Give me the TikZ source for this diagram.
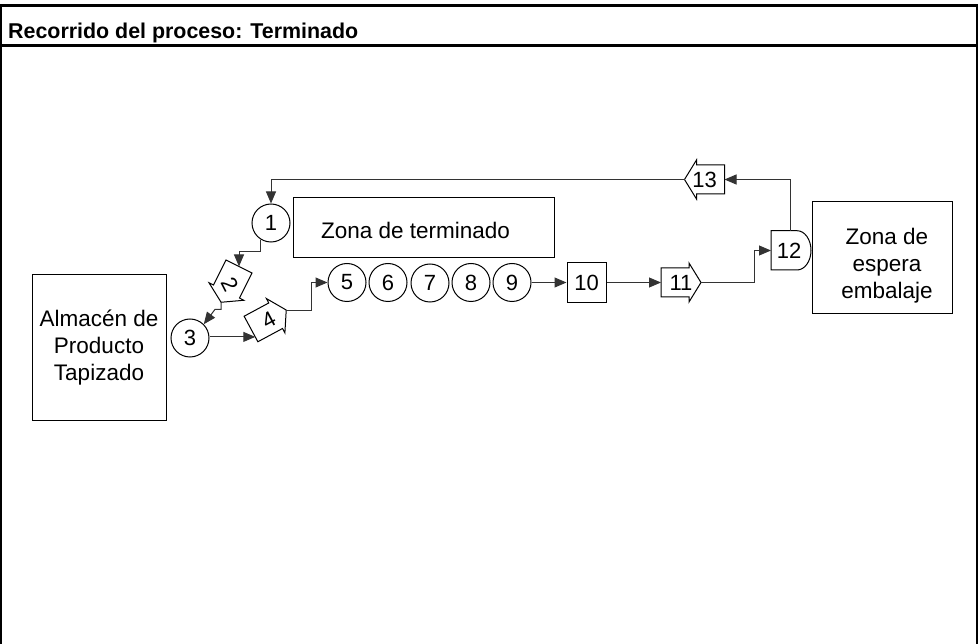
\documentclass[tikz,border=0pt]{standalone}
\usepackage{fontspec}
\setmainfont{Liberation Sans}
\usetikzlibrary{arrows.meta,calc}
\newcommand\ablock[6]{%
  \begin{scope}[shift={(#2,#3)}, rotate=#4]
    \draw[shapeline] (0,-14.5) -- (28,-14.5) -- (28,-19.5) -- (40,0) -- (28,19.5) -- (28,14.5) -- (0,14.5) -- cycle;
    \coordinate (#1-tail) at (0,0);
    \coordinate (#1-tip) at (40,0);
    \coordinate (#1-in) at (0,-9);
    \node[num, rotate=#6] (#1) at (20,0) {#5};
  \end{scope}}
\begin{document}
\begin{tikzpicture}[x=1pt,y=1pt,
  shapeline/.style={draw=black, line width=1pt},
  conn/.style={draw=black!80, line width=1pt},
  flow/.style={conn, -{Triangle[length=12pt,width=10pt]}},
  txt/.style={font=\fontsize{22.5}{27}\selectfont, inner sep=0pt},
  num/.style={font=\fontsize{22}{26}\selectfont, inner sep=0pt},
  station/.style={circle, shapeline, minimum size=38pt, inner sep=0pt, num},
  boxnode/.style={rectangle, shapeline, inner sep=0pt},
  frameline/.style={draw=black, line width=2.2pt},
  sideline/.style={draw=black, line width=1.6pt},
]
\useasboundingbox (0,0) rectangle (978,-644);
\fill[white] (0,0) rectangle (978,-644);

% frame
\draw[frameline] (0,-5.5) -- (978,-5.5);
\draw[frameline] (0,-45.5) -- (978,-45.5);
\draw[sideline] (1,-5.5) -- (1,-644);
\draw[sideline] (977,-5.5) -- (977,-644);
\node[anchor=base west, font=\fontsize{21.4}{25}\selectfont\bfseries, inner sep=0pt] (title) at (8,-38.5) {Recorrido del proceso: Terminado};

% areas
\node[boxnode, minimum width=134, minimum height=146, txt, align=center] (alm) at (99,-348) {Almacén de\\Producto\\Tapizado};
\node[boxnode, minimum width=261, minimum height=60] (zt) at (423.5,-228) {};
\node[txt, anchor=base] (ztt) at (415.5,-238.5) {Zona de terminado};
\node[boxnode, minimum width=140, minimum height=112] (ze) at (882,-258) {};
\node[txt, align=center] (zet) at (887,-266) {Zona de\\espera\\embalaje};

% stations
\node[station] (c1) at (271,-223) {1};
\node[station] (c3) at (190,-338) {3};
\node[station] (c5) at (347,-282.5) {5};
\node[station] (c6) at (388,-282.5) {6};
\node[station] (c7) at (430,-283) {7};
\node[station] (c8) at (471,-282.5) {8};
\node[station] (c9) at (512,-282.5) {9};
\node[boxnode, minimum width=39, minimum height=40, num] (b10) at (586.5,-282.5) {10};

% transports
\ablock{s2}{239}{-266.5}{-116.6}{2}{-63}
\ablock{s4}{251}{-329}{28.3}{4}{28}
\ablock{s11}{661}{-282.5}{0}{11}{0}
\ablock{s13}{724.5}{-179.5}{180}{13}{0}

% delay
\draw[shapeline] (771,-230.7) -- (797,-230.7) arc[start angle=90, end angle=-90, x radius=14, y radius=19.65] -- (771,-270) -- cycle;
\node[num] (d12) at (789,-250.5) {12};
\coordinate (d12-w) at (771,-250.5);
\coordinate (d12-top) at (790.7,-230.7);
\coordinate (k11) at (754,-250.5);

% connectors
\draw[flow] (s13-tip) -| (c1.north);
\draw[flow] (c1.238) -- ++(0,-11.5) -| (s2-tail);
\draw[flow] (s2-tip) -- ++(0,-7) -- ++(-6,0) -- (c3.north east);
\draw[flow] (s4-in -| c3.east) -- (s4-in);
\draw[flow] (s4-tip) -- ++(25.5,0) |- (c5.west);
\draw[flow] (c9.east) -- (b10.west);
\draw[flow] (b10.east) -- (s11-tail);
\draw[flow] (s11-tip) -| (k11) -- (d12-w);
\draw[flow] (d12-top) |- (s13-tail);
\end{tikzpicture}
\end{document}
